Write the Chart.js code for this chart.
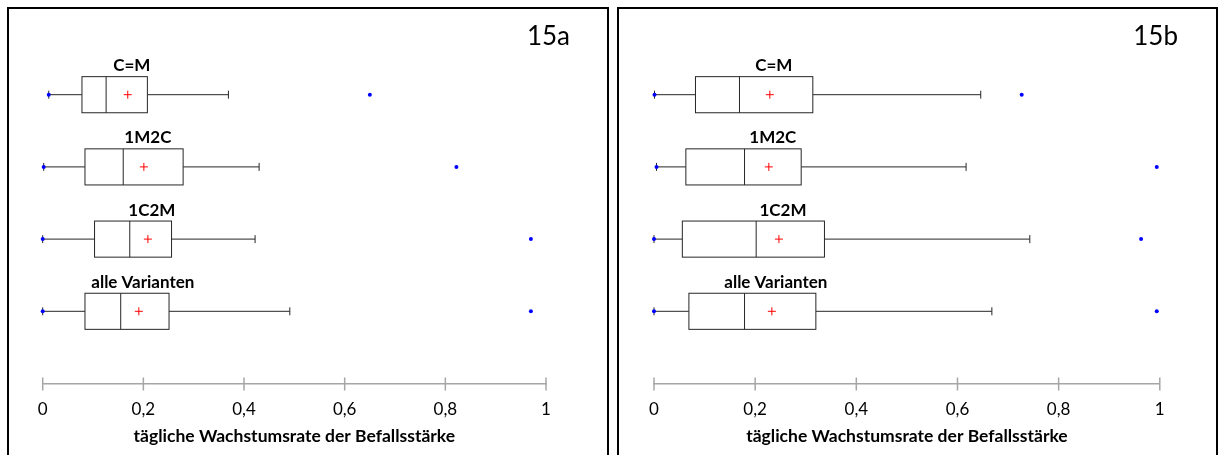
<!DOCTYPE html>
<html>
<head>
<meta charset="utf-8">
<script src="https://cdn.jsdelivr.net/npm/chart.js@4.4.0/dist/chart.umd.min.js"></script>
<style>
  body { margin: 0; background: #fff; width: 1219px; height: 455px; overflow: hidden; position: relative; }
  .panel { position: absolute; top: 7px; height: 460px; border: 2px solid #000; border-bottom: none; background: #fff; }
  #panel-a { left: 7px; width: 598px; }
  #panel-b { left: 617px; width: 597px; }
  .panel canvas { display: block; }
</style>
</head>
<body>
<div class="panel" id="panel-a"><canvas id="chart-a" width="598" height="446"></canvas></div>
<div class="panel" id="panel-b"><canvas id="chart-b" width="597" height="446"></canvas></div>
<script>
const CATEGORIES = ['C=M', '1M2C', '1C2M', 'alle Varianten'];
const X_TITLE = 'tägliche Wachstumsrate der Befallsstärke';

// 15a
const MIN_A = [0.012, 0.002, 0.0, 0.0];
const Q1_A = [0.078, 0.084, 0.103, 0.084];
const MEDIAN_A = [0.126, 0.160, 0.173, 0.155];
const Q3_A = [0.208, 0.279, 0.256, 0.251];
const UPPER_A = [0.369, 0.430, 0.422, 0.491];
const MAX_A = [0.650, 0.822, 0.970, 0.970];
const MEAN_A = [0.169, 0.201, 0.209, 0.191];

// 15b
const MIN_B = [0.001, 0.005, 0.0, 0.0];
const Q1_B = [0.082, 0.063, 0.056, 0.069];
const MEDIAN_B = [0.169, 0.179, 0.202, 0.179];
const Q3_B = [0.314, 0.291, 0.337, 0.320];
const UPPER_B = [0.646, 0.617, 0.743, 0.668];
const MAX_B = [0.727, 0.994, 0.963, 0.994];
const MEAN_B = [0.229, 0.227, 0.247, 0.233];

function buildRows(min, q1, median, q3, upper, max, mean) {
    let rows = [];
    for (let i = 0; i < CATEGORIES.length; i++) {
        rows.push({
            label: CATEGORIES[i],
            row: CATEGORIES.length - i,
            min: min[i], q1: q1[i], median: median[i], q3: q3[i],
            upper: upper[i], max: max[i], mean: mean[i]
        });
    }
    return rows;
}

function fmtTick(value) {
    return String(+value.toFixed(1)).replace('.', ',');
}

const boxPlotPlugin = {
    id: 'boxPlot',
    beforeDatasetsDraw(chart, args, opts) {
        const ctx = chart.ctx;
        const x = chart.scales.x;
        const y = chart.scales.y;
        const half = Math.abs(y.getPixelForValue(0) - y.getPixelForValue(0.25));

        opts.rows.forEach(r => {
            const yc = y.getPixelForValue(r.row);
            const px = v => x.getPixelForValue(v);
            ctx.save();
            ctx.strokeStyle = '#262626';
            ctx.lineWidth = 1;

            // whiskers with end caps
            ctx.beginPath();
            ctx.moveTo(px(r.min), yc);
            ctx.lineTo(px(r.q1), yc);
            ctx.moveTo(px(r.q3), yc);
            ctx.lineTo(px(r.upper), yc);
            [r.min, r.upper].forEach(v => {
                ctx.moveTo(px(v), yc - 4);
                ctx.lineTo(px(v), yc + 4);
            });
            ctx.stroke();

            // box and median
            ctx.fillStyle = '#fff';
            ctx.fillRect(px(r.q1), yc - half, px(r.q3) - px(r.q1), half * 2);
            ctx.strokeRect(px(r.q1), yc - half, px(r.q3) - px(r.q1), half * 2);
            ctx.beginPath();
            ctx.moveTo(px(r.median), yc - half);
            ctx.lineTo(px(r.median), yc + half);
            ctx.stroke();

            // group name above the box
            ctx.font = 'bold 17px Lato';
            ctx.textAlign = 'center';
            ctx.textBaseline = 'middle';
            ctx.fillStyle = '#000';
            ctx.fillText(r.label, px(r.mean) + 4, yc - half - 11);
            ctx.restore();
        });
    },
    afterDraw(chart, args, opts) {
        const ctx = chart.ctx;
        const x = chart.scales.x;
        const axisY = x.top;

        // tick marks crossing the axis line
        ctx.save();
        ctx.strokeStyle = '#a6a6a6';
        ctx.lineWidth = 1.5;
        ctx.beginPath();
        x.ticks.forEach(t => {
            const p = x.getPixelForValue(t.value);
            ctx.moveTo(p, axisY - 6);
            ctx.lineTo(p, axisY + 7);
        });
        ctx.stroke();

        // panel tag in the upper right corner
        ctx.font = '26px Lato';
        ctx.textAlign = 'right';
        ctx.textBaseline = 'middle';
        ctx.fillStyle = '#000';
        ctx.fillText(opts.tag, chart.width - opts.tagRight, 28);
        ctx.restore();
    }
};

function makePanel(canvasId, tag, rows, padLeft, padRight, tagRight) {
    const canvas = document.getElementById(canvasId);
    const axisHeight = 71.5;

    const means = rows.map(r => ({ x: r.mean, y: r.row }));
    const extremes = [];
    rows.forEach(r => {
        extremes.push({ x: r.min, y: r.row });
        extremes.push({ x: r.max, y: r.row });
    });

    const config = {
        type: 'scatter',
        data: {
            datasets: [
                {
                    label: 'Minimum/Maximum',
                    data: extremes,
                    pointStyle: 'circle',
                    pointRadius: 2,
                    pointBackgroundColor: '#0000ff',
                    pointBorderWidth: 0,
                    clip: false
                },
                {
                    label: 'Mittelwert',
                    data: means,
                    pointStyle: 'cross',
                    pointRadius: 4,
                    pointBorderColor: '#ff0000',
                    pointBorderWidth: 1,
                    clip: false
                }
            ]
        },
        options: {
            responsive: false,
            animation: false,
            layout: {
                padding: { left: padLeft, right: padRight, top: 13.5, bottom: 0 }
            },
            plugins: {
                legend: { display: false },
                tooltip: { enabled: false },
                boxPlot: { rows: rows, tag: tag, tagRight: tagRight }
            },
            scales: {
                x: {
                    type: 'linear',
                    min: 0,
                    max: 1,
                    afterFit: scale => { scale.height = axisHeight; },
                    grid: { display: false, drawTicks: false },
                    border: { display: true, color: '#a6a6a6', width: 1.5 },
                    ticks: {
                        stepSize: 0.2,
                        padding: 16.3,
                        color: '#000',
                        font: { family: 'Lato', size: 17 },
                        callback: fmtTick
                    },
                    title: {
                        display: true,
                        text: X_TITLE,
                        color: '#000',
                        font: { family: 'Lato', size: 17.5, weight: 'bold' },
                        padding: { top: 4, bottom: 8.5 }
                    }
                },
                y: {
                    type: 'linear',
                    min: 0,
                    max: 5,
                    display: false
                }
            }
        },
        plugins: [boxPlotPlugin]
    };

    return new Chart(canvas, config);
}

makePanel('chart-a', '15a', buildRows(MIN_A, Q1_A, MEDIAN_A, Q3_A, UPPER_A, MAX_A, MEAN_A), 33.7, 61, 37);
makePanel('chart-b', '15b', buildRows(MIN_B, Q1_B, MEDIAN_B, Q3_B, UPPER_B, MAX_B, MEAN_B), 35, 56.2, 38);
</script>
</body>
</html>
